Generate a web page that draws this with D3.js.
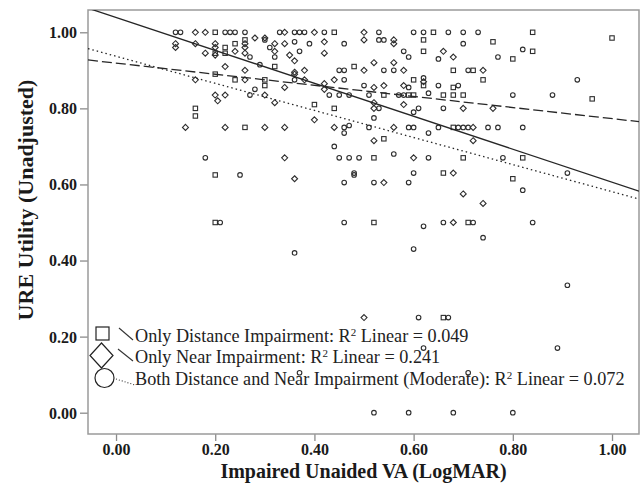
<!DOCTYPE html>
<html>
<head>
<meta charset="utf-8">
<script src="https://cdn.jsdelivr.net/npm/d3@7"></script>
<style>
  body { margin: 0; background: #fff; }
  svg text { font-family: "Liberation Serif", "Times New Roman", serif; }
</style>
</head>
<body>
<svg id="chart"></svg>
<script>
// values: [LogMAR, utility]
const distancePoints = [
  [0.20,1.00],[0.20,0.89],[0.16,0.80],[0.16,0.78],[0.26,0.98],[0.22,0.96],[0.24,0.97],
  [0.32,0.91],[0.48,0.91],[0.24,0.875],[0.30,0.875],[0.60,0.875],[0.30,0.86],[0.54,0.835],
  [0.59,0.835],[0.60,0.835],[0.40,0.81],[0.44,0.80],[0.26,0.75],[0.54,0.72],[0.52,0.67],
  [0.44,1.00],[0.64,1.00],[0.84,1.00],[0.62,0.98],[0.76,0.975],[1.00,0.985],[0.62,0.95],
  [0.80,0.93],[0.84,0.95],[0.68,0.90],[0.72,0.90],[0.74,0.875],[0.62,0.86],[0.68,0.855],
  [0.66,0.835],[0.68,0.835],[0.70,0.835],[0.96,0.825],[0.68,0.75],[0.70,0.67],[0.82,0.67],
  [0.20,0.625],[0.66,0.63],[0.80,0.615],[0.20,0.50],[0.52,0.50],[0.71,0.50],[0.66,0.25],
  [0.20,0.945],[0.22,0.945]
];
const nearPoints = [
  [0.12,0.97],[0.12,0.96],[0.16,1.00],[0.18,1.00],[0.16,0.97],[0.18,0.945],[0.20,0.97],
  [0.20,0.94],[0.16,0.875],[0.20,0.835],[0.205,0.82],[0.14,0.75],[0.34,1.00],[0.40,1.00],
  [0.50,1.00],[0.28,0.985],[0.30,0.985],[0.42,0.975],[0.50,0.98],[0.56,0.98],[0.20,0.96],
  [0.24,0.95],[0.26,0.97],[0.26,0.96],[0.26,0.945],[0.32,0.97],[0.32,0.95],[0.34,0.97],
  [0.35,0.94],[0.42,0.945],[0.56,0.97],[0.56,0.92],[0.22,0.91],[0.36,0.925],[0.36,0.895],
  [0.36,0.89],[0.26,0.90],[0.38,0.90],[0.50,0.90],[0.52,0.92],[0.58,0.90],[0.26,0.875],
  [0.38,0.875],[0.44,0.875],[0.34,0.855],[0.42,0.865],[0.42,0.85],[0.52,0.855],[0.54,0.86],
  [0.58,0.86],[0.22,0.835],[0.30,0.835],[0.32,0.815],[0.52,0.815],[0.52,0.80],[0.58,0.81],
  [0.40,0.77],[0.22,0.75],[0.30,0.75],[0.34,0.75],[0.44,0.75],[0.56,0.75],[0.52,0.715],
  [0.34,0.67],[0.60,0.67],[0.66,0.95],[0.68,0.935],[0.74,0.90],[0.62,0.87],[0.70,0.80],
  [0.76,0.80],[0.72,0.75],[0.72,0.715],[0.36,0.615],[0.54,0.605],[0.68,0.63],[0.70,0.575],
  [0.74,0.55],[0.68,0.50],[0.50,0.25]
];
const bothPoints = [
  [0.12,1.00],[0.13,1.00],[0.18,0.67],[0.22,1.00],[0.23,1.00],[0.24,1.00],[0.26,1.00],
  [0.33,1.00],[0.36,1.00],[0.37,1.00],[0.38,1.00],[0.42,1.00],[0.53,1.00],[0.60,1.00],
  [0.62,1.00],[0.67,1.00],[0.70,1.00],[0.73,1.00],[0.30,0.98],[0.36,0.975],[0.53,0.98],
  [0.54,0.98],[0.46,0.97],[0.27,0.935],[0.31,0.96],[0.32,0.935],[0.37,0.95],[0.39,0.97],
  [0.58,0.95],[0.59,0.935],[0.29,0.915],[0.45,0.90],[0.46,0.90],[0.54,0.90],[0.56,0.90],
  [0.36,0.875],[0.46,0.875],[0.28,0.85],[0.50,0.86],[0.59,0.855],[0.27,0.835],[0.43,0.835],
  [0.45,0.835],[0.47,0.835],[0.51,0.835],[0.57,0.835],[0.58,0.835],[0.53,0.80],[0.60,0.79],
  [0.61,0.80],[0.52,0.775],[0.46,0.75],[0.47,0.755],[0.46,0.735],[0.51,0.75],[0.59,0.75],
  [0.60,0.75],[0.44,0.70],[0.56,0.68],[0.45,0.67],[0.47,0.67],[0.49,0.67],[0.70,0.97],
  [0.65,0.93],[0.77,0.935],[0.82,0.955],[0.71,0.90],[0.62,0.88],[0.65,0.86],[0.69,0.86],
  [0.63,0.84],[0.80,0.835],[0.88,0.835],[0.93,0.875],[0.66,0.80],[0.63,0.735],[0.65,0.75],
  [0.69,0.75],[0.70,0.75],[0.71,0.75],[0.75,0.75],[0.77,0.75],[0.82,0.75],[0.63,0.67],
  [0.78,0.67],[0.25,0.625],[0.36,0.42],[0.21,0.50],[0.48,0.63],[0.48,0.625],[0.46,0.605],
  [0.52,0.605],[0.59,0.605],[0.60,0.63],[0.46,0.50],[0.62,0.49],[0.66,0.50],[0.72,0.50],
  [0.74,0.46],[0.60,0.43],[0.82,0.585],[0.91,0.63],[0.84,0.50],[0.91,0.335],[0.61,0.25],
  [0.67,0.25],[0.62,0.17],[0.89,0.17],[0.37,0.105],[0.71,0.105],[0.52,0.00],[0.59,0.00],
  [0.68,0.00],[0.80,0.00]
];

// linear fit lines: intercept, slope
const fitIntercepts = [0.919, 1.039, 0.937];
const fitSlopes = [-0.146, -0.433, -0.356];
const groupLabels = [
  "Only Distance Impairment",
  "Only Near Impairment",
  "Both Distance and Near Impairment (Moderate)"
];
const rSquared = ["0.049", "0.241", "0.072"];
const xTicks = [0, 0.2, 0.4, 0.6, 0.8, 1.0];
const yTicks = [0, 0.2, 0.4, 0.6, 0.8, 1.0];

const width = 644, height = 485;
const plot = { left: 88, right: 639, top: 10, bottom: 434 };

const svg = d3.select("#chart").attr("width", width).attr("height", height);

const x = d3.scaleLinear().domain([-0.0565, 1.0544]).range([plot.left, plot.right]);
const y = d3.scaleLinear().domain([-0.056, 1.0586]).range([plot.bottom, plot.top]);

// axes
const fmt = d3.format(".2f");
const xAxis = svg.append("g")
  .attr("transform", "translate(0," + plot.bottom + ")")
  .call(d3.axisBottom(x).tickValues(xTicks).tickFormat(fmt).tickSizeOuter(0).tickSize(7).tickPadding(3));
const yAxis = svg.append("g")
  .attr("transform", "translate(" + plot.left + ",0)")
  .call(d3.axisLeft(y).tickValues(yTicks).tickFormat(fmt).tickSizeOuter(0).tickSize(8).tickPadding(3));
[xAxis, yAxis].forEach(g => {
  g.select(".domain").remove();
  g.selectAll(".tick line").attr("stroke", "#8c8c8c").attr("stroke-width", 1.3);
  g.selectAll(".tick text")
    .attr("font-family", "Liberation Serif, serif")
    .attr("font-weight", "bold")
    .attr("font-size", 16)
    .attr("fill", "#1a1a1a");
});
xAxis.selectAll(".tick text").attr("dy", "0.7em");
yAxis.selectAll(".tick text").attr("dy", "0.34em");

// frame
svg.append("rect")
  .attr("x", plot.left).attr("y", plot.top)
  .attr("width", plot.right - plot.left).attr("height", plot.bottom - plot.top)
  .attr("fill", "none").attr("stroke", "#9a9a9a").attr("stroke-width", 1.5);

svg.append("clipPath").attr("id", "clip")
  .append("rect")
  .attr("x", plot.left).attr("y", plot.top)
  .attr("width", plot.right - plot.left).attr("height", plot.bottom - plot.top);

// points
const markColor = "#2e2e2e";
const gPts = svg.append("g").attr("fill", "none").attr("stroke", markColor).attr("stroke-width", 1.1);

gPts.selectAll("rect.dist")
  .data(distancePoints)
  .enter()
  .append("rect")
  .attr("class", "dist")
  .attr("x", d => x(d[0]) - 2.2)
  .attr("y", d => y(d[1]) - 2.2)
  .attr("width", 4.4)
  .attr("height", 4.4);

gPts.selectAll("path.near")
  .data(nearPoints)
  .enter()
  .append("path")
  .attr("class", "near")
  .attr("d", d => {
    const cx = x(d[0]), cy = y(d[1]), r = 3;
    return "M" + cx + "," + (cy - r) + "L" + (cx + r) + "," + cy + "L" + cx + "," + (cy + r) + "L" + (cx - r) + "," + cy + "Z";
  });

gPts.selectAll("circle.both")
  .data(bothPoints)
  .enter()
  .append("circle")
  .attr("class", "both")
  .attr("cx", d => x(d[0]))
  .attr("cy", d => y(d[1]))
  .attr("r", 2.3);

// fit lines
const dashes = ["10,4", null, "1.5,3"];
const xd = x.domain();
svg.append("g")
  .attr("clip-path", "url(#clip)")
  .selectAll("line")
  .data(fitIntercepts)
  .enter()
  .append("line")
  .attr("x1", x(xd[0]))
  .attr("y1", (d, i) => y(d + fitSlopes[i] * xd[0]))
  .attr("x2", x(xd[1]))
  .attr("y2", (d, i) => y(d + fitSlopes[i] * xd[1]))
  .attr("stroke", "#262626")
  .attr("stroke-width", 1.3)
  .attr("stroke-dasharray", (d, i) => dashes[i]);

// legend
const legend = svg.append("g");
const legY = [342, 363, 385];
legend.append("rect")
  .attr("x", 96).attr("y", 327).attr("width", 13).attr("height", 13)
  .attr("fill", "#fff").attr("stroke", "#222").attr("stroke-width", 1.2);
legend.append("path")
  .attr("d", "M101.5,343L113,355.5L101.5,368L90,355.5Z")
  .attr("fill", "#fff").attr("stroke", "#222").attr("stroke-width", 1.2);
legend.append("circle")
  .attr("cx", 104.5).attr("cy", 378).attr("r", 9.5)
  .attr("fill", "#fff").attr("stroke", "#222").attr("stroke-width", 1.2);
const legLines = [[119, 328, 133, 340], [118, 349, 133, 361], [116, 379, 135, 385]];
legend.selectAll("line")
  .data(legLines)
  .enter()
  .append("line")
  .attr("x1", d => d[0]).attr("y1", d => d[1])
  .attr("x2", d => d[2]).attr("y2", d => d[3])
  .attr("stroke", "#333")
  .attr("stroke-width", 1.1)
  .attr("stroke-dasharray", (d, i) => i == 2 ? "1,2" : null);

groupLabels.forEach(function (lab, i) {
  const t = legend.append("text")
    .attr("x", 135)
    .attr("y", legY[i])
    .attr("font-size", 18.2)
    .attr("fill", "#222");
  t.append("tspan").text(lab + ": R");
  t.append("tspan").attr("font-size", 11).attr("dy", -6).text("2");
  t.append("tspan").attr("dy", 6).text(" Linear = " + rSquared[i]);
});

// axis titles
svg.append("text")
  .attr("x", (plot.left + plot.right) / 2)
  .attr("y", 478)
  .attr("text-anchor", "middle")
  .attr("font-weight", "bold")
  .attr("font-size", 20)
  .attr("fill", "#1a1a1a")
  .text("Impaired Unaided VA (LogMAR)");

svg.append("text")
  .attr("transform", "translate(33,200) rotate(-90)")
  .attr("text-anchor", "middle")
  .attr("font-weight", "bold")
  .attr("font-size", 22)
  .attr("fill", "#1a1a1a")
  .text("URE Utility (Unadjusted)");
</script>
</body>
</html>
